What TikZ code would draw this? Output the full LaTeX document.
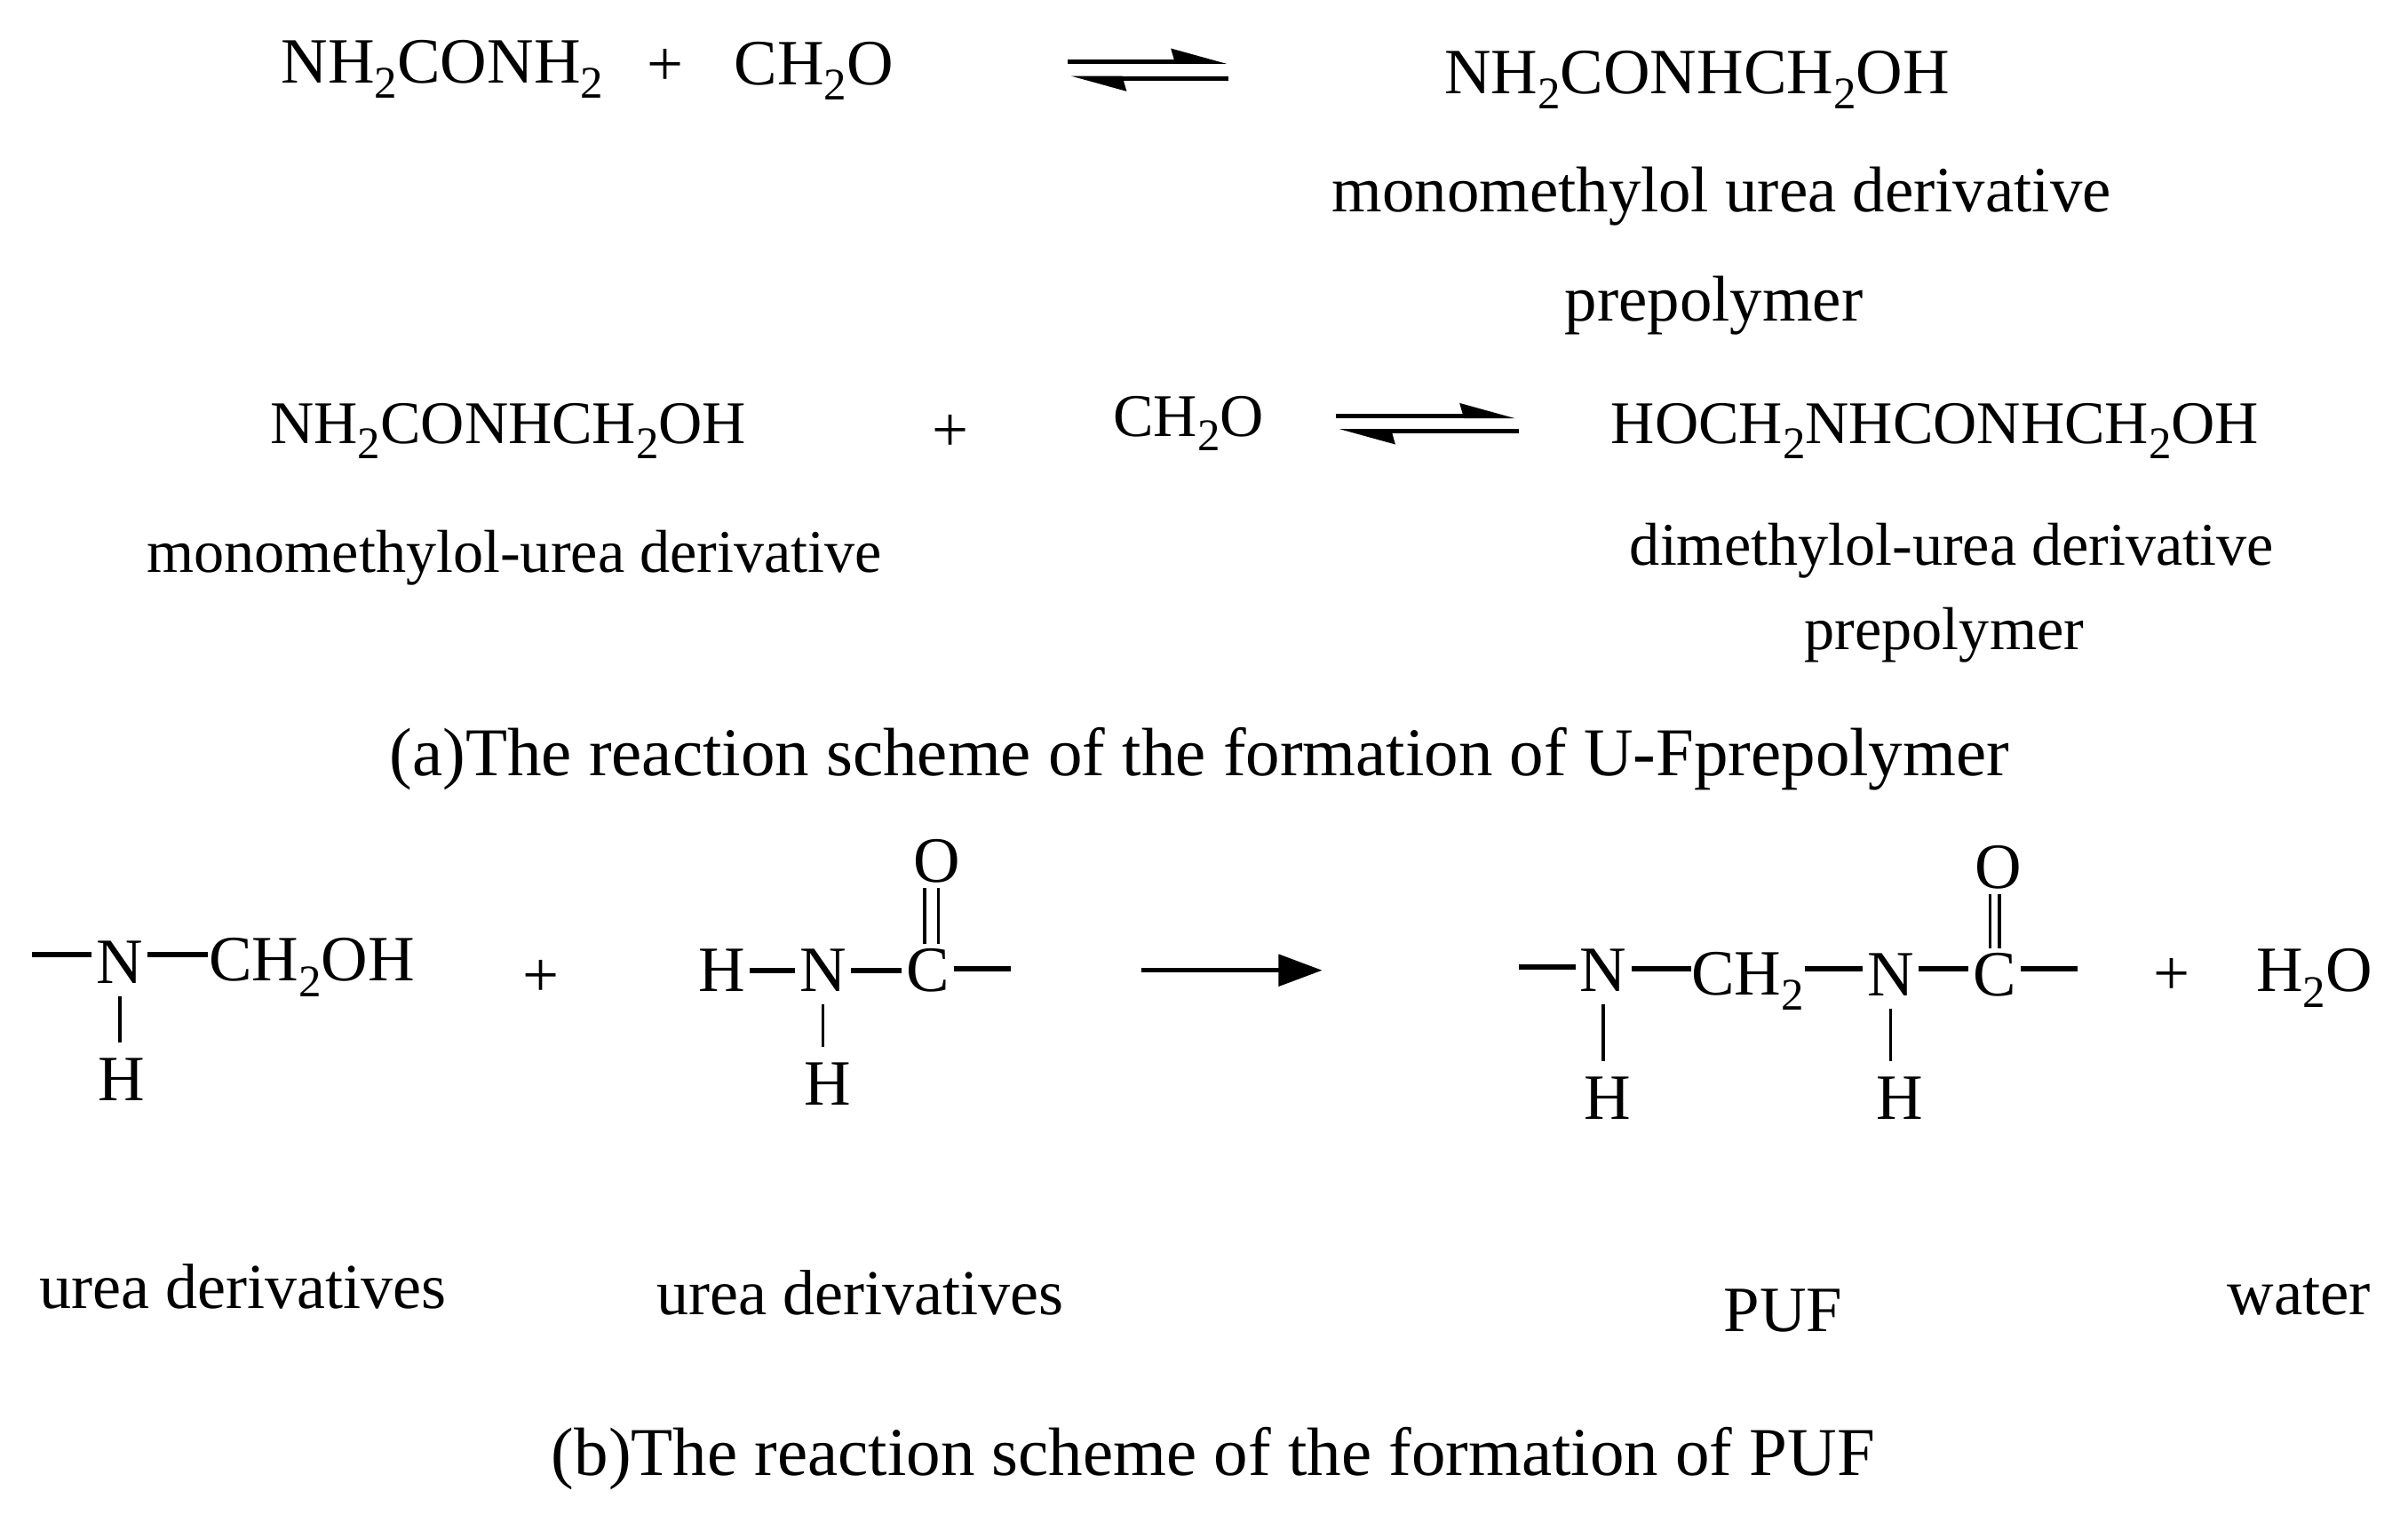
\documentclass[tikz,border=0pt]{standalone}
\usepackage{fontspec}
\setmainfont{Liberation Serif}
\usetikzlibrary{arrows.meta}
\newcommand{\low}[1]{\raisebox{-0.24em}{\fontsize{14.5}{14}\selectfont #1}}
\begin{document}
\begin{tikzpicture}[x=0.01729cm, y=-0.01729cm,
                every node/.style={font=\fontsize{20.7}{24}\selectfont},
                txt/.style={anchor=base, inner sep=0pt},
                txtb/.style={txt, font=\fontsize{19.4}{24}\selectfont},
                caption/.style={txt, font=\fontsize{21.9}{24}\selectfont},
                atom/.style={inner sep=0pt, outer sep=1.5pt},
                bond/.style={line width=1.7pt},
                thinbond/.style={line width=1pt},
                stem/.style={thinbond, shorten <=2.5pt, shorten >=3.5pt},
                harp/.style={line width=1.5pt, -{Stealth[harpoon, length=15pt, width=8pt, inset=1pt]}},
                react/.style={line width=1.5pt, -{Triangle[length=14pt, width=10pt]}}]
        \useasboundingbox (0,0) rectangle (1568,985.6);

                % Formation of the monomethylol prepolymer
                \node[txt] (urea) at (288,54) {NH\low{2}CONH\low{2}};
                \node[txt] (plusa) at (433,56) {+};
                \node[txt] (forma) at (530,55) {CH\low{2}O};
                \node[txt] (mono) at (1105,61) {NH\low{2}CONHCH\low{2}OH};
                \node[txt] (monolabel) at (1121,138) {monomethylol urea derivative};
                \node[txt] (monopre) at (1116,209) {prepolymer};
                \coordinate (ea) at (695,40);
                \coordinate (eb) at (799,40);
                \coordinate (ec) at (800,51);
                \coordinate (ed) at (697,51);
                \draw [harp](ea) -- (eb);
                \draw [harp](ec) -- (ed);

                % Formation of the dimethylol prepolymer
                \node[txtb] (monob) at (331,289) {NH\low{2}CONHCH\low{2}OH};
                \node[txt] (plusb) at (619,294) {+};
                \node[txtb] (formb) at (774,284) {CH\low{2}O};
                \node[txtb] (di) at (1260,289) {HOCH\low{2}NHCONHCH\low{2}OH};
                \node[txtb] (monoblabel) at (335,373) {monomethylol-urea derivative};
                \node[txtb] (dilabel) at (1271,368) {dimethylol-urea derivative};
                \node[txtb] (dipre) at (1266,423) {prepolymer};
                \node[caption] (capa) at (781,505) {(a)The reaction scheme of the formation of U-Fprepolymer};
                \coordinate (fa) at (870,271);
                \coordinate (fb) at (987,271);
                \coordinate (fc) at (989,281);
                \coordinate (fd) at (872,281);
                \draw [harp](fa) -- (fb);
                \draw [harp](fc) -- (fd);

                % First urea derivative
                \coordinate (ta) at (21,622);
                \node[atom] (na) at (78,627) {N};
                \node[txt] (cha) at (203,639) {CH\low{2}OH};
                \node[atom] (ha) at (79,703) {H};
                \node[txt] (plusc) at (352,649) {+};
                \draw [bond](ta) -- (ta -| na.west);
                \draw [bond](na.east |- ta) -- (cha.west |- ta);
                \draw [stem](na.south) -- (na.south |- ha.north);

                % Second urea derivative
                \node[atom] (hb) at (470,632) {H};
                \node[atom] (nb) at (536,632) {N};
                \node[atom] (cb) at (604,632) {C};
                \node[atom] (ob) at (610,561) {O};
                \node[atom] (hc) at (539,706) {H};
                \coordinate (tb) at (658,631);
                \draw [bond](hb) -- (nb);
                \draw [bond](nb) -- (cb);
                \draw [bond](cb.east |- tb) -- (tb);
                \draw [stem](nb.south) -- (nb.south |- hc.north);
                \draw [thinbond]([xshift=-1pt]cb.north) -- ([xshift=-1pt]cb.north |- ob.south);
                \draw [thinbond]([xshift=3.5pt]cb.north) -- ([xshift=3.5pt]cb.north |- ob.south);

                % Reaction arrow
                \coordinate (ra) at (743,632);
                \coordinate (rb) at (861,632);
                \draw [react](ra) -- (rb);

                % Product PUF
                \coordinate (tc) at (989,630);
                \coordinate (td) at (1353,631);
                \node[atom] (nc) at (1044,632) {N};
                \node[txt] (chb) at (1138,648) {CH\low{2}};
                \node[atom] (nd) at (1231,635) {N};
                \node[atom] (cc) at (1299,635) {C};
                \node[atom] (oc) at (1301,565) {O};
                \node[atom] (hd) at (1047,715) {H};
                \node[atom] (he) at (1237,715) {H};
                \node[txt] (plusd) at (1414,648) {+};
                \node[txt] (water) at (1507,646) {H\low{2}O};
                \draw [bond](tc) -- (tc -| nc.west);
                \draw [bond](nc.east |- td) -- (chb.west |- td);
                \draw [bond](chb.east |- td) -- (nd.west |- td);
                \draw [bond](nd.east |- td) -- (cc.west |- td);
                \draw [bond](cc.east |- td) -- (td);
                \draw [stem](nc.south) -- (nc.south |- hd.north);
                \draw [stem](nd.south) -- (nd.south |- he.north);
                \draw [thinbond]([xshift=-1.5pt]cc.north) -- ([xshift=-1.5pt]cc.north |- oc.south);
                \draw [thinbond]([xshift=1.5pt]cc.north) -- ([xshift=1.5pt]cc.north |- oc.south);

                % Labels under the structures
                \node[txt, font=\fontsize{20.5}{24}\selectfont] (labela) at (158,852) {urea derivatives};
                \node[txt, font=\fontsize{20.5}{24}\selectfont] (labelb) at (560,856) {urea derivatives};
                \node[txt] (labelc) at (1161,867) {PUF};
                \node[txt] (labeld) at (1497,856) {water};
                \node[caption] (capb) at (790,961) {(b)The reaction scheme of the formation of PUF};
                \end{tikzpicture}
\end{document}
